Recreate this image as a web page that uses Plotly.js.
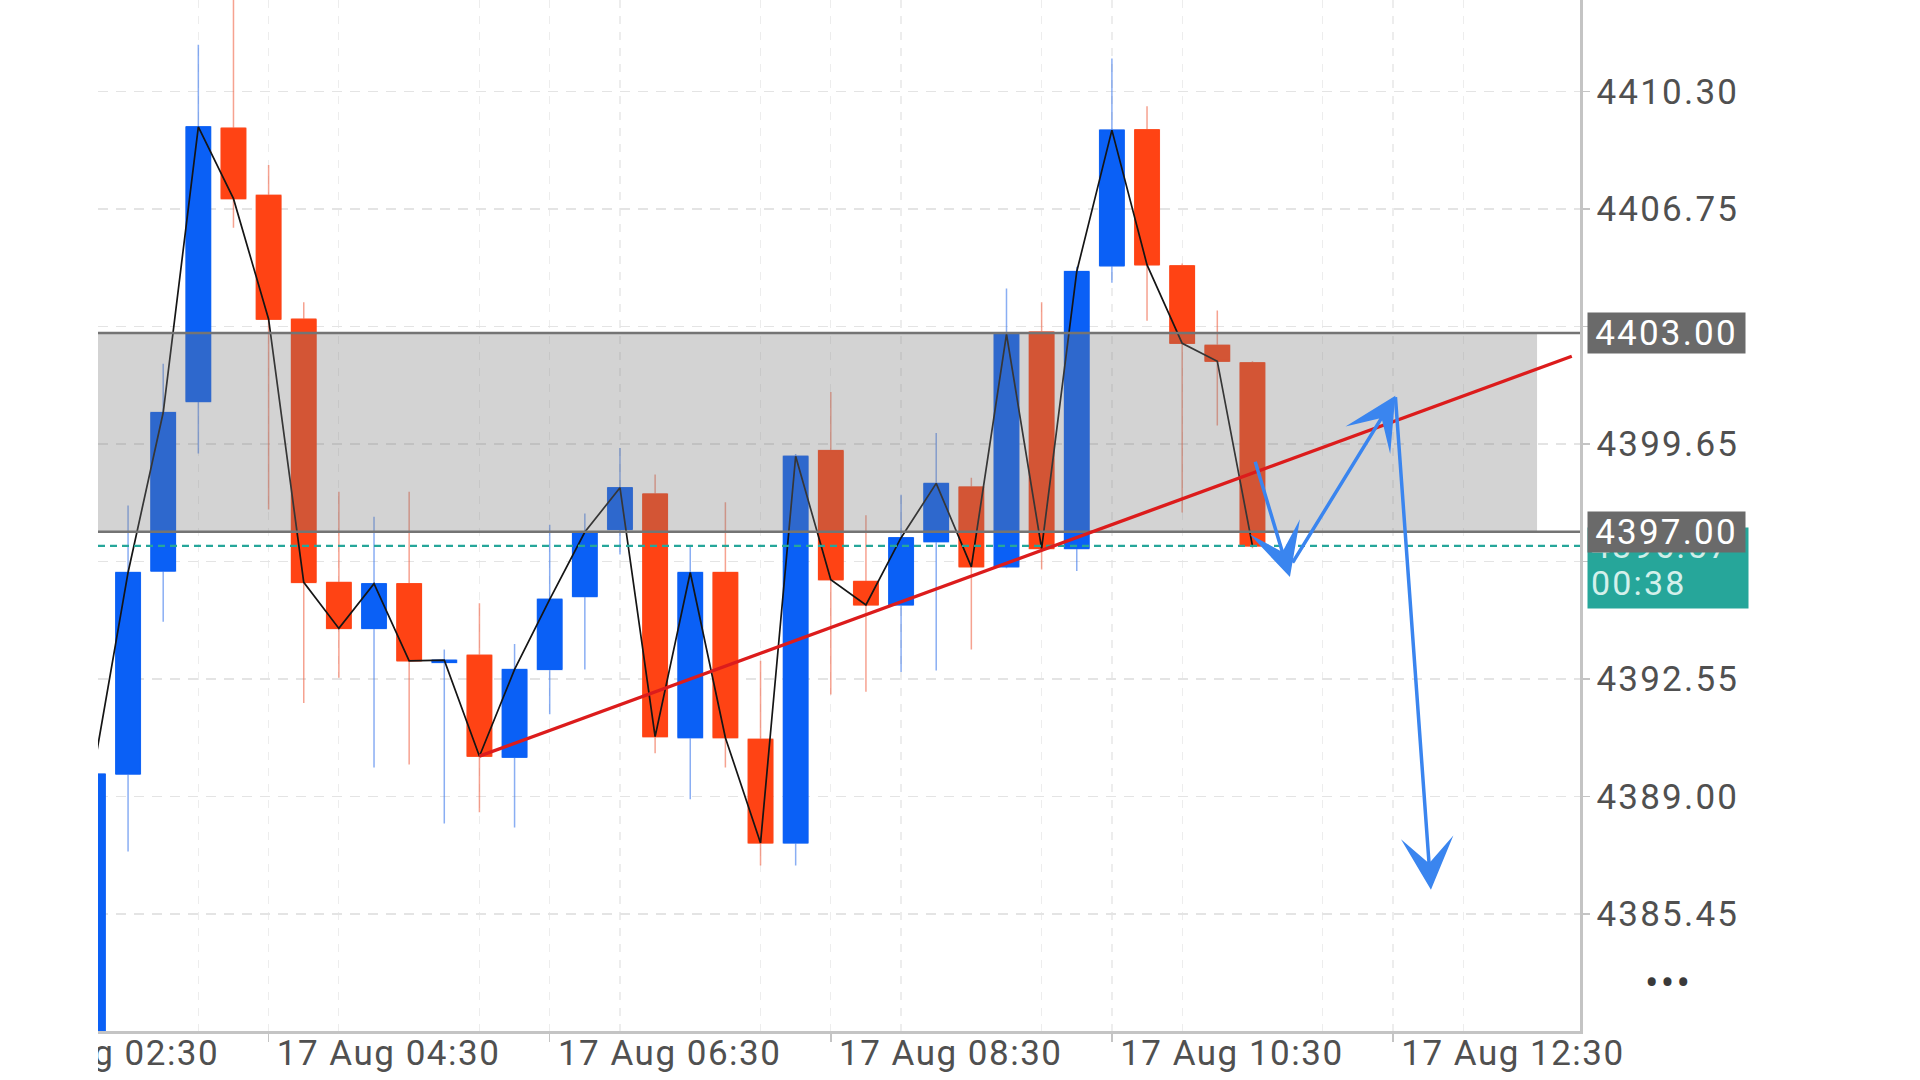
<!DOCTYPE html>
<html>
<head>
<meta charset="utf-8">
<script src="https://cdn.plot.ly/plotly-3.0.1.min.js"></script>
<style>
html,body{margin:0;padding:0;background:#ffffff;}
#chart{width:1920px;height:1080px;}
.xtick text,.x2tick text{letter-spacing:1.5px;}
.ytick text{letter-spacing:2.2px;}
.annotation-text{letter-spacing:2.2px;}
</style>
</head>
<body>
<div id="chart"></div>
<script>
// ---- candle data (15-minute bars, 17 Aug) ----
const times = [
  '2023-08-17 03:15','2023-08-17 03:30','2023-08-17 03:45','2023-08-17 04:00',
  '2023-08-17 04:15','2023-08-17 04:30','2023-08-17 04:45','2023-08-17 05:00',
  '2023-08-17 05:15','2023-08-17 05:30','2023-08-17 05:45','2023-08-17 06:00',
  '2023-08-17 06:15','2023-08-17 06:30','2023-08-17 06:45','2023-08-17 07:00',
  '2023-08-17 07:15','2023-08-17 07:30','2023-08-17 07:45','2023-08-17 08:00',
  '2023-08-17 08:15','2023-08-17 08:30','2023-08-17 08:45','2023-08-17 09:00',
  '2023-08-17 09:15','2023-08-17 09:30','2023-08-17 09:45','2023-08-17 10:00',
  '2023-08-17 10:15','2023-08-17 10:30','2023-08-17 10:45','2023-08-17 11:00',
  '2023-08-17 11:15','2023-08-17 11:30'
];
const openP = [
  4381.00,4389.68,4395.81,4400.93,4409.19,4407.16,4403.42,4395.47,
  4394.08,4395.43,4393.05,4393.27,4390.19,4392.84,4395.04,4397.07,
  4398.14,4390.78,4395.77,4390.73,4387.60,4399.45,4395.50,4394.79,
  4396.70,4398.35,4395.94,4403.03,4396.49,4405.03,4409.14,4405.03,
  4402.63,4402.10
];
const highP = [
  4389.90,4397.79,4402.07,4411.71,4413.60,4408.08,4403.93,4398.21,
  4397.45,4398.21,4393.44,4394.84,4393.61,4397.21,4397.55,4399.53,
  4398.73,4396.60,4397.89,4393.10,4399.35,4401.22,4397.50,4398.12,
  4399.98,4398.63,4404.35,4403.93,4405.00,4411.29,4409.85,4405.10,
  4403.68,4402.15
];
const lowP = [
  4380.50,4387.34,4394.28,4399.36,4406.18,4397.67,4391.83,4392.59,
  4389.88,4389.97,4388.19,4388.53,4388.07,4391.49,4392.84,4396.31,
  4390.31,4388.92,4389.88,4386.92,4386.92,4392.08,4392.17,4392.76,
  4392.81,4393.44,4395.90,4395.86,4395.81,4404.52,4403.37,4397.58,
  4400.21,4396.50
];
const closeP = [
  4389.68,4395.77,4400.60,4409.23,4407.06,4403.42,4395.47,4394.08,
  4395.43,4393.10,4393.12,4390.22,4392.84,4394.96,4396.99,4398.33,
  4390.81,4395.77,4390.78,4387.60,4399.28,4395.55,4394.79,4396.82,
  4398.46,4395.94,4402.97,4396.49,4404.86,4409.13,4405.06,4402.69,
  4402.15,4396.57
];

// ---- axes ----
const xRange = ['2023-08-17 03:17:10','2023-08-17 13:49:50'];
// the date labels sit to the right of their tick marks
const xLabelRange = ['2023-08-17 02:25:57','2023-08-17 12:58:37'];
const yRange = [4381.92, 4413.06];
const yTickVals = [4385.45, 4389.00, 4392.55, 4396.10, 4399.65, 4403.20, 4406.75, 4410.30, 4413.85];
const yTickText = ['4385.45','4389.00','4392.55','','4399.65','','4406.75','4410.30',''];

// ---- drawings ----
const zoneLow = 4397.00, zoneHigh = 4403.00;
const zoneEnd = '2023-08-17 13:31:30';
const lastPrice = 4396.57, lastPriceText = '4396.57', countdown = '00:38';
const trendTimes = ['2023-08-17 06:00','2023-08-17 13:46:20'];
const trendPrices = [4390.22, 4402.30];
const arrowTailTime  = ['2023-08-17 11:31','2023-08-17 11:46:45','2023-08-17 12:31'];
const arrowTailPrice = [4399.16, 4396.02, 4401.11];
const arrowHeadTime  = ['2023-08-17 11:46','2023-08-17 12:31','2023-08-17 12:46:12'];
const arrowHeadPrice = [4395.63, 4401.11, 4386.19];

const BLUE = '#0a60f6', RED = '#ff4314';
const FONT = 'Roboto, "Liberation Sans", Arial, sans-serif';

const bodyHigh = openP.map((o,i)=>Math.max(o, closeP[i]));
const bodyLow  = openP.map((o,i)=>Math.min(o, closeP[i]));

const traces = [
  { // wicks
    type:'candlestick', x:times, open:openP, high:highP, low:lowP, close:closeP,
    increasing:{line:{color:'rgba(60,120,235,0.6)', width:1.5}, fillcolor:BLUE},
    decreasing:{line:{color:'rgba(240,100,70,0.6)', width:1.5}, fillcolor:RED},
    whiskerwidth:0, showlegend:false, hoverinfo:'skip'
  },
  { // bodies
    type:'candlestick', x:times, open:openP, high:bodyHigh, low:bodyLow, close:closeP,
    increasing:{line:{color:BLUE, width:1}, fillcolor:BLUE},
    decreasing:{line:{color:RED, width:1}, fillcolor:RED},
    whiskerwidth:0, showlegend:false, hoverinfo:'skip'
  },
  { // close line
    type:'scatter', mode:'lines', x:times, y:closeP,
    line:{color:'#151515', width:1.7}, showlegend:false, hoverinfo:'skip'
  },
  { // carrier for the label axis (invisible)
    type:'scatter', mode:'lines', x:times, y:closeP, xaxis:'x2', yaxis:'y',
    line:{width:0, color:'rgba(0,0,0,0)'}, opacity:0, showlegend:false, hoverinfo:'skip'
  }
];

const shapes = [
  {type:'rect', layer:'above', xref:'x', x0:xRange[0], x1:zoneEnd, yref:'y', y0:zoneLow, y1:zoneHigh,
   line:{width:0}, fillcolor:'rgba(120,120,120,0.33)'},
  {type:'line', layer:'above', xref:'paper', x0:0, x1:1, yref:'y', y0:zoneHigh, y1:zoneHigh,
   line:{color:'#747474', width:2.5}},
  {type:'line', layer:'above', xref:'paper', x0:0, x1:1, yref:'y', y0:zoneLow, y1:zoneLow,
   line:{color:'#747474', width:2.5}},
  {type:'line', layer:'above', xref:'paper', x0:0, x1:1, yref:'y', y0:lastPrice, y1:lastPrice,
   line:{color:'#26a69a', width:2.2, dash:'7px,5px'}},
  {type:'line', layer:'above', xref:'x', x0:trendTimes[0], x1:trendTimes[1], yref:'y', y0:trendPrices[0], y1:trendPrices[1],
   line:{color:'#dc1c1c', width:3.4}},
  // white cover for the left margin (clips the partial first date label)
  {type:'rect', layer:'above', xref:'paper', x0:-0.2, x1:0, yref:'paper', y0:-0.08, y1:1.01,
   line:{width:0}, fillcolor:'#ffffff'}
];

const annotations = [];
for (let i = 0; i < arrowTailTime.length; i++) {
  annotations.push({
    xref:'x', yref:'y', axref:'x', ayref:'y',
    x:arrowHeadTime[i], y:arrowHeadPrice[i], ax:arrowTailTime[i], ay:arrowTailPrice[i],
    text:'', showarrow:true, arrowhead:3, arrowsize:2.5, arrowwidth:3.5, arrowcolor:'#3a85ef', standoff:0
  });
}
// teal last-price box
annotations.push({
  xref:'paper', x:1, xanchor:'left', xshift:7, yref:'y', y:lastPrice, yanchor:'top', yshift:19,
  text:countdown, showarrow:false, bgcolor:'#26a69a', borderpad:0, width:160, height:80,
  font:{family:FONT, size:34, color:'rgba(0,0,0,0)'}
});
annotations.push({
  xref:'paper', x:1, xanchor:'left', xshift:9, yref:'y', y:lastPrice, yanchor:'middle', yshift:0,
  text:lastPriceText, showarrow:false, font:{family:FONT, size:34, color:'#cfeee8'}
});
annotations.push({
  xref:'paper', x:1, xanchor:'left', xshift:9, yref:'y', y:lastPrice, yanchor:'middle', yshift:-37,
  text:countdown, showarrow:false, font:{family:FONT, size:34, color:'#d4f0eb'}
});
// level labels
[zoneHigh, zoneLow].forEach(v => {
  annotations.push({
    xref:'paper', x:1, xanchor:'left', xshift:7, yref:'y', y:v, yanchor:'middle',
    text:v.toFixed(2), showarrow:false, bgcolor:'#6a6a6a', borderpad:1, width:155, height:38,
    align:'center', font:{family:FONT, size:35, color:'#ffffff'}
  });
});
// menu dots
annotations.push({
  xref:'paper', x:1.0594, yref:'paper', y:0.0456, xanchor:'center', yanchor:'middle',
  text:'•••', showarrow:false, font:{family:FONT, size:40, color:'#3a3a3a'}
});

const layout = {
  width:1920, height:1080,
  margin:{l:98, r:340, t:0, b:49, pad:0},
  paper_bgcolor:'#ffffff', plot_bgcolor:'#ffffff',
  showlegend:false, dragmode:false,
  boxgap:0.3, boxgroupgap:0,
  font:{family:FONT, color:'#505050'},
  xaxis:{
    type:'date', range:xRange, rangeslider:{visible:false},
    tick0:'2023-08-17 00:30', dtick:7200000, showticklabels:false,
    ticks:'outside', ticklen:8, tickwidth:1.5, tickcolor:'#c4c4c4',
    showline:true, linecolor:'#c4c4c4', linewidth:2.5,
    showgrid:true, gridcolor:'#ededed', gridwidth:1.2, griddash:'8px,8px',
    minor:{dtick:3600000, showgrid:true, gridcolor:'#ededed', gridwidth:1.2, griddash:'8px,8px'},
    zeroline:false, fixedrange:true
  },
  xaxis2:{
    type:'date', range:xLabelRange, overlaying:'x', anchor:'y', side:'bottom',
    tick0:'2023-08-17 00:30', dtick:7200000, tickformat:'%d %b %H:%M',
    ticks:'', showline:false, showgrid:false, zeroline:false, ticklabelstandoff:-2,
    ticklabeloverflow:'allow',
    tickfont:{family:FONT, size:35, color:'#505050'}, fixedrange:true
  },
  yaxis:{
    side:'right', range:yRange, tickmode:'array', tickvals:yTickVals, ticktext:yTickText,
    ticks:'outside', ticklen:7, tickwidth:1.5, tickcolor:'#c4c4c4',
    showline:true, linecolor:'#c4c4c4', linewidth:2.5,
    showgrid:true, gridcolor:'#e4e4e4', gridwidth:1.5, griddash:'10px,8px',
    tickfont:{family:FONT, size:35, color:'#505050'},
    zeroline:false, fixedrange:true
  },
  shapes:shapes, annotations:annotations
};

Plotly.newPlot('chart', traces, layout, {displayModeBar:false, staticPlot:true});
</script>
</body>
</html>
